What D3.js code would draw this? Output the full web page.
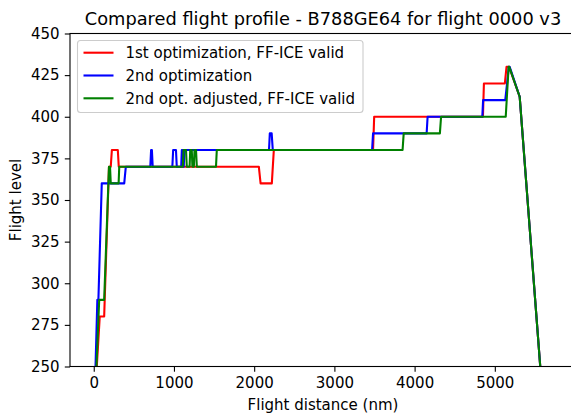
<!DOCTYPE html>
<html>
<head>
<meta charset="utf-8">
<script src="https://cdn.jsdelivr.net/npm/d3@7"></script>
<style>
  html, body { margin: 0; padding: 0; background: #fff; }
  svg { display: block; font-family: "DejaVu Sans", sans-serif; }
</style>
</head>
<body>
<svg id="chart" width="571" height="414"></svg>
<script>
// ---- data (distance in nm, flight level) ----
const xTicks = [0, 1000, 2000, 3000, 4000, 5000];
const yTicks = [250, 275, 300, 325, 350, 375, 400, 425, 450];

const seriesNames = ["1st optimization, FF-ICE valid", "2nd optimization", "2nd opt. adjusted, FF-ICE valid"];
const seriesColors = ["#ff0000", "#0000ff", "#008000"];

const redDist = [38, 75, 130, 190, 212, 226, 300, 312, 2058, 2080, 2220, 2245, 3482, 3496, 4852, 4864, 5125, 5146, 5178, 5310, 5620];
const redFL   = [250, 280, 280, 370, 370, 380, 380, 370, 370, 360, 360, 380, 380, 400, 400, 420, 420, 430, 430, 412, 216];

const blueDist = [22, 45, 58, 100, 380, 400, 705, 715, 725, 735, 980, 990, 1025, 1035, 1090, 1098, 1105, 1112, 1122, 1130, 2185, 2195, 2218, 2232, 3470, 3482, 4150, 4162, 4844, 4854, 5130, 5175, 5185, 5310, 5620];
const blueFL   = [250, 290, 290, 360, 360, 370, 370, 380, 380, 370, 370, 380, 380, 370, 370, 380, 380, 370, 370, 380, 380, 390, 390, 380, 380, 390, 390, 400, 400, 410, 410, 430, 430, 412, 216];

const greenDist = [34, 68, 130, 190, 203, 212, 310, 318, 1110, 1120, 1150, 1160, 1195, 1203, 1222, 1230, 1248, 1256, 1275, 1285, 1524, 1534, 3850, 3864, 4315, 4330, 5136, 5172, 5180, 5310, 5620];
const greenFL   = [250, 290, 290, 370, 370, 360, 360, 370, 370, 380, 380, 370, 370, 380, 380, 370, 370, 380, 380, 370, 370, 380, 380, 390, 390, 400, 400, 430, 430, 412, 216];

const seriesDist = [redDist, blueDist, greenDist];
const seriesFL = [redFL, blueFL, greenFL];

// ---- layout ----
const svg = d3.select("#chart");
const mLeft = 70, mRight = 576, mTop = 33.5, mBottom = 366.5;
const FS = 15;

const x = d3.scaleLinear().domain([-296, 6012]).range([mLeft, mRight]);
const y = d3.scaleLinear().domain([250, 450]).range([mBottom, mTop]);

svg.append("defs").append("clipPath").attr("id", "clip")
  .append("rect").attr("x", mLeft).attr("y", mTop).attr("width", mRight - mLeft).attr("height", mBottom - mTop);

// lines
const line = d3.line().x(d => x(d[0])).y(d => y(d[1]));
const gLines = svg.append("g").attr("clip-path", "url(#clip)");
seriesDist.forEach((dist, i) => {
  const pts = dist.map((d, j) => [d, seriesFL[i][j]]);
  gLines.append("path").datum(pts)
    .attr("d", line)
    .attr("fill", "none")
    .attr("stroke", seriesColors[i])
    .attr("stroke-width", 2.1)
    .attr("stroke-linejoin", "round")
    .attr("stroke-linecap", "butt");
});

// axes
const xAxis = svg.append("g").attr("transform", `translate(0,${mBottom})`)
  .call(d3.axisBottom(x).tickValues(xTicks).tickFormat(d3.format("d")).tickSize(5.2).tickPadding(5.2).tickSizeOuter(0));
const yAxis = svg.append("g").attr("transform", `translate(${mLeft},0)`)
  .call(d3.axisLeft(y).tickValues(yTicks).tickFormat(d3.format("d")).tickSize(5.2).tickPadding(5.2).tickSizeOuter(0));
[xAxis, yAxis].forEach(a => {
  a.select(".domain").remove();
  a.selectAll(".tick line").attr("stroke", "#000").attr("stroke-width", 1.1);
  a.selectAll(".tick text").attr("fill", "#000").style("font-size", FS + "px").style("font-family", "DejaVu Sans");
});

// frame
svg.append("rect").attr("x", mLeft).attr("y", mTop).attr("width", mRight - mLeft).attr("height", mBottom - mTop)
  .attr("fill", "none").attr("stroke", "#000").attr("stroke-width", 1.1);

// title and labels
svg.append("text").attr("x", (mLeft + mRight) / 2).attr("y", 24.5)
  .attr("text-anchor", "middle").style("font-size", "17.8px").attr("fill", "#000")
  .text("Compared flight profile - B788GE64 for flight 0000 v3");
svg.append("text").attr("x", (mLeft + mRight) / 2).attr("y", 409.5)
  .attr("text-anchor", "middle").style("font-size", FS + "px").attr("fill", "#000")
  .text("Flight distance (nm)");
svg.append("text").attr("transform", `translate(21,${(mTop + mBottom) / 2}) rotate(-90)`)
  .attr("text-anchor", "middle").style("font-size", FS + "px").attr("fill", "#000")
  .text("Flight level");

// legend
const lg = svg.append("g");
lg.append("rect").attr("x", 77.5).attr("y", 40.5).attr("width", 285.5).attr("height", 72)
  .attr("rx", 3).attr("ry", 3)
  .attr("fill", "#fff").attr("fill-opacity", 0.8)
  .attr("stroke", "#cccccc").attr("stroke-width", 1.1);
seriesNames.forEach((name, i) => {
  const cy = 52.7 + i * 22.8;
  lg.append("line").attr("x1", 83.5).attr("x2", 113.5).attr("y1", cy).attr("y2", cy)
    .attr("stroke", seriesColors[i]).attr("stroke-width", 2.1);
  lg.append("text").attr("x", 125.5).attr("y", cy + 5.3)
    .style("font-size", FS + "px").attr("fill", "#000").text(name);
});
</script>
</body>
</html>
